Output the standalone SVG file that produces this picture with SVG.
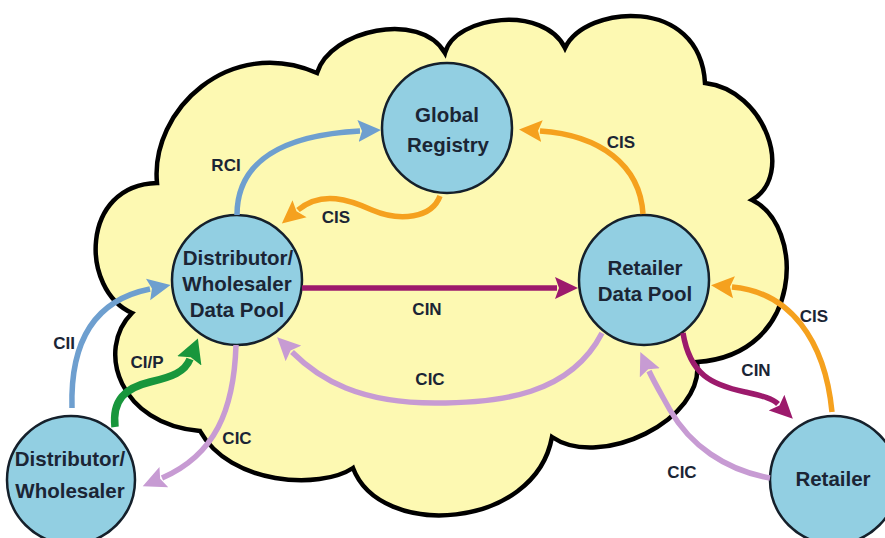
<svg xmlns="http://www.w3.org/2000/svg" width="885" height="538" viewBox="0 0 885 538">
<style>
.node circle{fill:#92cfe2;stroke:#15202b;stroke-width:2.5}
.nt{font-family:"Liberation Sans",Arial,sans-serif;font-weight:bold;font-size:20.5px;fill:#1b2535;text-anchor:middle}
.lb{font-family:"Liberation Sans",Arial,sans-serif;font-weight:bold;font-size:17px;fill:#1b2535;text-anchor:middle}
.c{fill:none;stroke-width:5.5;stroke-linecap:butt}
.blue{stroke:#6e9fcf}
.orange{stroke:#f5a11e}
.maroon{stroke:#9c1a6c}
.lav{stroke:#c79bd3}
.green{stroke:#18963c;stroke-width:7.5}
</style>
<defs>
<marker id="aBlue" markerUnits="userSpaceOnUse" markerWidth="24" markerHeight="24" viewBox="0 0 24 24" refX="2" refY="12" orient="auto"><path d="M0,1 L23,12 L0,23 L4,12 z" fill="#6e9fcf"/></marker>
<marker id="aOrange" markerUnits="userSpaceOnUse" markerWidth="24" markerHeight="24" viewBox="0 0 24 24" refX="2" refY="12" orient="auto"><path d="M0,1 L23,12 L0,23 L4,12 z" fill="#f5a11e"/></marker>
<marker id="aMaroon" markerUnits="userSpaceOnUse" markerWidth="24" markerHeight="24" viewBox="0 0 24 24" refX="2" refY="12" orient="auto"><path d="M0,1 L23,12 L0,23 L4,12 z" fill="#9c1a6c"/></marker>
<marker id="aLav" markerUnits="userSpaceOnUse" markerWidth="24" markerHeight="24" viewBox="0 0 24 24" refX="2" refY="12" orient="auto"><path d="M0,1 L23,12 L0,23 L4,12 z" fill="#c79bd3"/></marker>
<marker id="aGreen" markerUnits="userSpaceOnUse" markerWidth="26" markerHeight="26" viewBox="0 0 26 26" refX="2" refY="13" orient="auto"><path d="M0,0 L24,13 L0,26 L4,13 z" fill="#18963c"/></marker>
</defs>
<rect width="885" height="538" fill="#ffffff"/>
<g id="cloud">
<path d="M157,183 C150,110 230,35 317,73 C330,30 420,10 445,53 C455,15 545,5 565,48 C585,5 700,-5 705,83 C765,90 795,175 752,200 C805,225 805,355 697,362 C705,420 600,470 552,437 C535,530 380,540 353,468 C320,490 230,485 200,431 C120,425 95,350 132,313 C80,290 80,185 157,183 Z" fill="#fdf9b2" stroke="#000" stroke-width="4.5" stroke-linejoin="miter"/>
</g>
<g id="n-global" class="node"><circle cx="447" cy="128" r="65"/><text class="nt" x="447" y="122">Global</text><text class="nt" x="448" y="152">Registry</text></g>
<g id="n-dwpool" class="node"><circle cx="237" cy="280" r="65"/><text class="nt" x="238" y="265">Distributor/</text><text class="nt" x="237" y="291">Wholesaler</text><text class="nt" x="237" y="317">Data Pool</text></g>
<g id="n-rpool" class="node"><circle cx="644" cy="280" r="65"/><text class="nt" x="645" y="275">Retailer</text><text class="nt" x="645" y="301">Data Pool</text></g>
<g id="n-dw" class="node"><circle cx="71" cy="480" r="64"/><text class="nt" x="70" y="466">Distributor/</text><text class="nt" x="70" y="498">Wholesaler</text></g>
<g id="n-retailer" class="node"><circle cx="834" cy="480" r="64"/><text class="nt" x="833" y="486">Retailer</text></g>
<g id="connectors">
<path class="c blue" d="M237,215 C237,160 285,135 360,131" marker-end="url(#aBlue)"/>
<path class="c orange" d="M440,196 C432,218 400,222 372,210 C350,200 322,190 298,210" marker-end="url(#aOrange)"/>
<path class="c orange" d="M643,214 C640,165 600,135 540,131" marker-end="url(#aOrange)"/>
<path class="c maroon" d="M302,288 L557,288" marker-end="url(#aMaroon)"/>
<path class="c lav" d="M602,333 C570,395 500,403 435,403 C360,403 320,380 292,352" marker-end="url(#aLav)"/>
<path class="c blue" d="M72,408 C70,340 95,300 150,289" marker-end="url(#aBlue)"/>
<path class="c green" d="M115,427 C112,400 125,388 150,382 C172,377 185,372 190,359" marker-end="url(#aGreen)"/>
<path class="c lav" d="M236,345 C234,410 215,455 162,478" marker-end="url(#aLav)"/>
<path class="c orange" d="M832,412 C825,340 790,292 732,287" marker-end="url(#aOrange)"/>
<path class="c maroon" d="M683,333 C690,375 712,385 745,392 C762,396 772,398 778,404" marker-end="url(#aMaroon)"/>
<path class="c lav" d="M770,478 C725,470 690,445 670,410 C660,392 654,382 649,371" marker-end="url(#aLav)"/>
<text class="lb" x="226" y="171">RCI</text>
<text class="lb" x="336" y="223">CIS</text>
<text class="lb" x="621" y="148">CIS</text>
<text class="lb" x="427" y="315">CIN</text>
<text class="lb" x="430" y="385">CIC</text>
<text class="lb" x="64" y="349">CII</text>
<text class="lb" x="147" y="368">CI/P</text>
<text class="lb" x="237" y="444">CIC</text>
<text class="lb" x="814" y="322">CIS</text>
<text class="lb" x="756" y="376">CIN</text>
<text class="lb" x="682" y="478">CIC</text>
</g>
</svg>
